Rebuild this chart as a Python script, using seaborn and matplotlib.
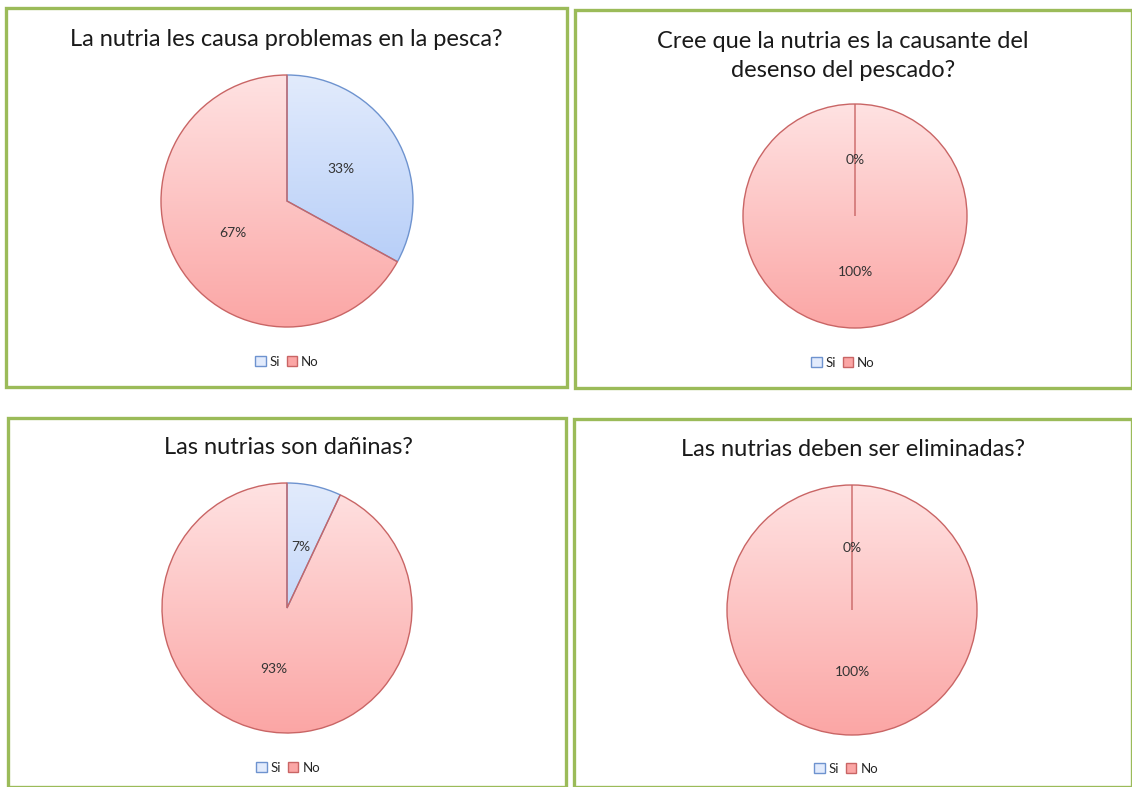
import numpy as np
import matplotlib

matplotlib.use('Agg')
import matplotlib.pyplot as plt
from matplotlib.patches import Rectangle, Patch
from matplotlib.colors import LinearSegmentedColormap
import seaborn as sns

# Survey data (percent of answers)
categories = ['Si', 'No']
titles = [
    'La nutria les causa problemas en la pesca?',
    'Cree que la nutria es la causante del\ndesenso del pescado?',
    'Las nutrias son dañinas?',
    'Las nutrias deben ser eliminadas?',
]
si_values = [33, 0, 7, 0]
no_values = [67, 100, 93, 100]

# colours: (top of gradient, bottom of gradient, edge)
si_colors = ('#e2ebfc', '#a9c5f7', '#6e93cf')
no_colors = ('#ffe2e2', '#fba6a5', '#c96565')

W, H = 1132, 787

# layout in pixels
panels = [(6, 8, 567, 387), (575, 10, 1132, 388),
          (8, 418, 566, 787), (574, 419, 1132, 787)]
pies = [(287, 201, 126), (855, 216, 112), (287, 608, 125), (852, 610, 125)]
title_pos = [(286, 40), (843, 56), (288, 448), (853, 449)]
legend_pos = [(287, 362), (843, 363), (288, 768), (846, 769)]

sns.set_theme(style='white')
plt.rcParams['font.family'] = ['Lato', 'DejaVu Sans']

fig = plt.figure(figsize=(W / 100, H / 100), dpi=100)
fig.patch.set_facecolor('white')


def fx(x):
    return x / W


def fy(y):
    return 1 - y / H


for i in range(4):
    x0, y0, x1, y1 = panels[i]
    fig.patches.append(Rectangle((fx(x0), fy(y1)), fx(x1 - x0), (y1 - y0) / H,
                                 transform=fig.transFigure, fill=False,
                                 edgecolor='#9bbb59', linewidth=2.4))

    cx, cy, r = pies[i]
    ax = fig.add_axes([fx(cx - r), fy(cy + r), fx(2 * r), 2 * r / H])
    vals = [si_values[i], no_values[i]]
    wedges, texts, autotexts = ax.pie(
        vals, startangle=90, counterclock=False, autopct='%.0f%%',
        pctdistance=0.5, radius=1,
        wedgeprops=dict(linewidth=1.0, facecolor='none'),
        textprops=dict(fontsize=10, color='#333333'))

    for w, cols in zip(wedges, [si_colors, no_colors]):
        w.set_edgecolor(cols[2])
        w.set_zorder(3)
        w.set_clip_on(False)
        cmap = LinearSegmentedColormap.from_list('g', [cols[0], cols[1]])
        grad = np.linspace(0, 1, 256).reshape(-1, 1)
        im = ax.imshow(grad, cmap=cmap, extent=(-1, 1, -1, 1), aspect='auto',
                       origin='upper', zorder=2)
        im.set_clip_path(w)
    if vals[0] == 0:
        wedges[0].set_edgecolor(no_colors[2])
        wedges[0].set_zorder(4)
    for t in autotexts:
        t.set_zorder(5)
    ax.set_xlim(-1.0, 1.0)
    ax.set_ylim(-1.0, 1.0)
    ax.axis('off')

    tx, ty = title_pos[i]
    fig.text(fx(tx), fy(ty), titles[i], ha='center', va='center',
             fontsize=17, color='#1a1a1a', linespacing=1.45)

    lx, ly = legend_pos[i]
    handles = [Patch(facecolor=si_colors[0], edgecolor=si_colors[2], label='Si'),
               Patch(facecolor=no_colors[1], edgecolor=no_colors[2], label='No')]
    fig.legend(handles=handles, loc='center', bbox_to_anchor=(fx(lx), fy(ly)),
               ncol=2, frameon=False, fontsize=9.5, handlelength=0.8,
               handleheight=0.8, handletextpad=0.3, columnspacing=0.5,
               borderpad=0)

fig.savefig('out.png', dpi=100)
